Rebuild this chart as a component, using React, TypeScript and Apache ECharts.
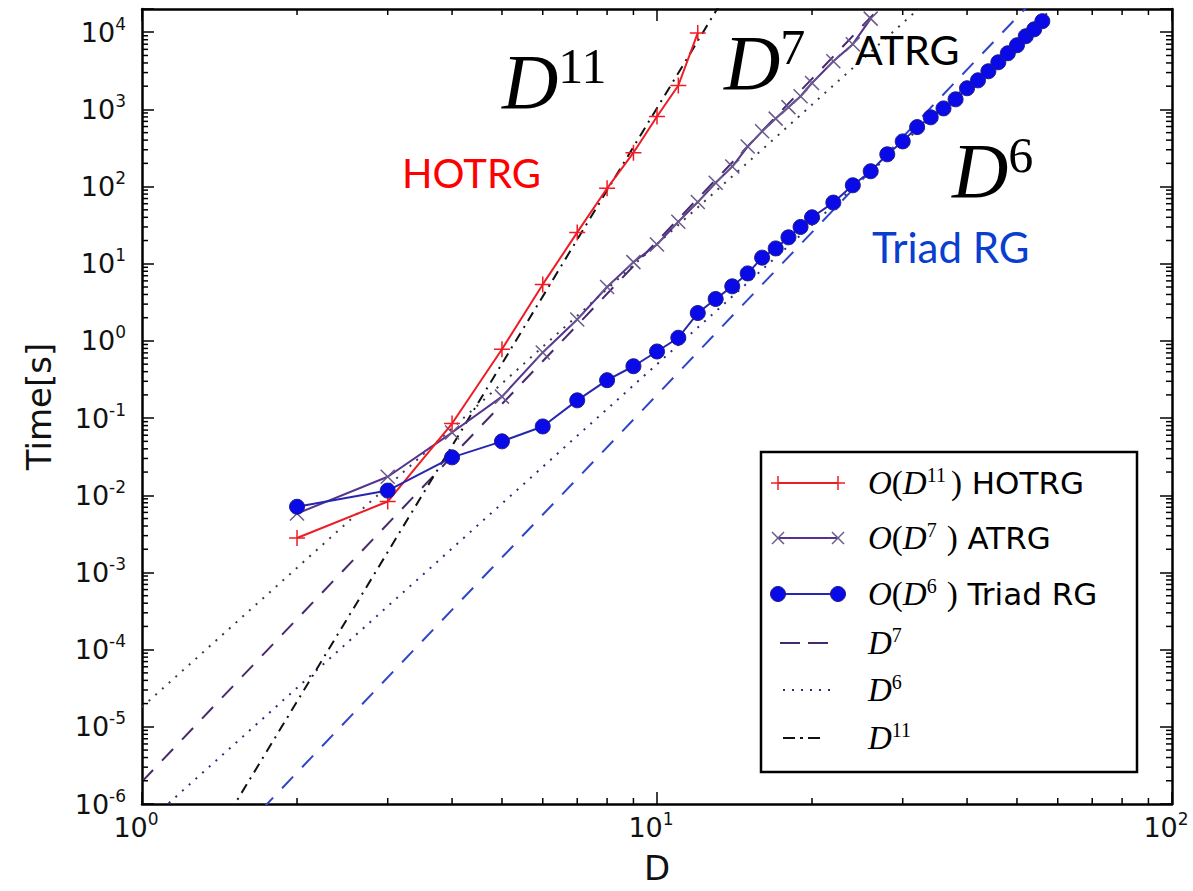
import React, { useEffect, useRef } from 'react';
import * as echarts from 'echarts';

// ---------- data ----------
const hotrgD = [2, 3, 4, 5, 6, 7, 8, 9, 10, 11, 12];
const hotrgTime = [0.0028, 0.0083, 0.085, 0.78, 5.4, 25.5, 95, 275, 810, 2040, 9800];

const atrgD = [2, 3, 4, 5, 6, 7, 8, 9, 10, 11, 12, 13, 14, 15, 16, 17, 18, 19, 20, 22, 24, 26];
const atrgTime = [0.0058, 0.0174, 0.065, 0.19, 0.71, 1.9, 5.0, 10.5, 17.8, 35, 63, 112, 182, 330, 520, 760, 1070, 1480, 2200, 4200, 7000, 15000];

const triadD = [2, 3, 4, 5, 6, 7, 8, 9, 10, 11, 12, 13, 14, 15, 16, 17, 18, 19, 20, 22, 24, 26, 28, 30, 32, 34, 36, 38, 40, 42, 44, 46, 48, 50, 52, 54, 56];
const triadTime = [0.0071, 0.0115, 0.031, 0.05, 0.078, 0.17, 0.31, 0.47, 0.73, 1.1, 2.3, 3.5, 5.1, 7.5, 12, 15.8, 22, 30, 40, 62, 104, 158, 262, 385, 590, 790, 1030, 1350, 1880, 2380, 3120, 4080, 5340, 6780, 8870, 10900, 13900];

// power-law guide lines, end points at D = 1 and D = 100
const fitD = [1, 100];
const fitD6Upper = [1.8e-5, 1.8e7];
const fitD7 = [1.95e-6, 1.95e8];
const fitD6Triad = [5e-7, 5e5];
const fitD11 = [1.04e-8, 1.04e14];
const fitD7Triad = [2e-8, 2e6];

// axes
const xMin = 1;
const xMax = 100;
const yMin = 1e-6;
const yMax = 2e4;
const xDecades = [1, 10];
const yDecades = [1e-6, 1e-5, 1e-4, 1e-3, 1e-2, 1e-1, 1, 10, 100, 1000, 10000];
const minorMultipliers = [2, 3, 4, 5, 6, 7, 8, 9];

const zip = (xs: number[], ys: number[]) => xs.map((x, i) => [x, ys[i]]);

const FONT = 'DejaVu Sans';
const SERIF = 'Liberation Serif';

const RED = '#ee1c25';
const PURPLE = '#56348e';
const BLUE_FILL = '#0a0ae8';
const BLUE_LINE = '#2626b0';

const tickRich = {
  b: { fontSize: 27, fontFamily: FONT, color: '#111', lineHeight: 34 },
  s: { fontSize: 17, fontFamily: FONT, color: '#111', lineHeight: 16, verticalAlign: 'top' },
};

function powLabel(v: number) {
  const l = Math.log10(v);
  const e = Math.round(l);
  if (Math.abs(l - e) > 1e-6) return '';
  return `{b|10}{s|${e}}`;
}
function expLabel(v: number) {
  const e = Math.round(v);
  if (Math.abs(v - e) > 1e-6) return '';
  return `{b|10}{s|${e}}`;
}

export default function App() {
  const ref = useRef<HTMLDivElement>(null);
  useEffect(() => {
    if (!ref.current) return;
    const chart = echarts.init(ref.current, null, { renderer: 'svg' });

    const xMinor = xDecades.flatMap((d) => minorMultipliers.map((m) => [d * m, 1]));
    const yMinor = yDecades
      .flatMap((d) => minorMultipliers.map((m) => [1, d * m]))
      .filter((p) => p[1] < yMax * 0.999);

    const tickStyle = { stroke: '#000', lineWidth: 1.5 };

    const fitLine = (name: string, ys: number[], color: string, dash: any, width = 2) => ({
      name,
      type: 'line',
      xAxisIndex: 0,
      yAxisIndex: 0,
      data: zip(fitD, ys),
      symbol: 'none',
      lineStyle: { color, width, type: dash },
      z: 2,
      silent: true,
    });

    const legendText = {
      i: { fontFamily: SERIF, fontStyle: 'italic', fontSize: 33, color: '#222', lineHeight: 36 },
      r: { fontFamily: SERIF, fontSize: 33, color: '#222', lineHeight: 36 },
      sup: { fontFamily: SERIF, fontSize: 20, color: '#222', lineHeight: 18, verticalAlign: 'top' },
      s: { fontFamily: FONT, fontSize: 31, color: '#111', lineHeight: 36 },
    };

    const bigRich = {
      d: { fontFamily: SERIF, fontStyle: 'italic', fontSize: 78, color: '#000', lineHeight: 80 },
      n: { fontFamily: SERIF, fontSize: 50, color: '#000', lineHeight: 44, verticalAlign: 'top' },
    };

    const lx1 = 778;
    const lx2 = 838;
    const rows = [483, 538, 594, 643, 690, 738];
    const legendZ = 100;

    const plusAt = (x: number, y: number, c: string) => [
      { type: 'line', z: legendZ, shape: { x1: x - 7, y1: y, x2: x + 7, y2: y }, style: { stroke: c, lineWidth: 1.5 } },
      { type: 'line', z: legendZ, shape: { x1: x, y1: y - 7, x2: x, y2: y + 7 }, style: { stroke: c, lineWidth: 1.5 } },
    ];
    const crossAt = (x: number, y: number, c: string) => [
      { type: 'line', z: legendZ, shape: { x1: x - 6, y1: y - 6, x2: x + 6, y2: y + 6 }, style: { stroke: c, lineWidth: 1.5 } },
      { type: 'line', z: legendZ, shape: { x1: x - 6, y1: y + 6, x2: x + 6, y2: y - 6 }, style: { stroke: c, lineWidth: 1.5 } },
    ];

    const option: any = {
      animation: false,
      backgroundColor: '#fff',
      grid: { left: 142, right: 21, top: 9, bottom: 87, containLabel: false, outerBoundsMode: 'none' },
      xAxis: [
        {
          type: 'log',
          logBase: 10,
          min: xMin,
          max: xMax,
          position: 'bottom',
          name: 'D',
          nameLocation: 'middle',
          nameGap: 47,
          nameTextStyle: { fontSize: 34, fontFamily: FONT, color: '#111' },
          axisLine: { show: true, onZero: false, lineStyle: { color: '#000', width: 2.5 } },
          axisTick: { show: true, inside: true, length: 12, lineStyle: { color: '#000', width: 1.5 } },
          axisLabel: { show: true, margin: 6, padding: [0, 12, 0, 0], formatter: powLabel, rich: tickRich, showMinLabel: true, showMaxLabel: true },
          splitLine: { show: false },
        },
        {
          type: 'log',
          logBase: 10,
          min: xMin,
          max: xMax,
          position: 'top',
          axisLine: { show: true, onZero: false, lineStyle: { color: '#000', width: 2.5 } },
          axisTick: { show: true, inside: true, length: 12, lineStyle: { color: '#000', width: 1.5 } },
          axisLabel: { show: false },
          splitLine: { show: false },
        },
      ],
      yAxis: [
        {
          type: 'log',
          logBase: 10,
          min: yMin,
          max: yMax,
          position: 'left',
          offset: 0,
          axisLine: { show: false },
          axisTick: { show: false },
          axisLabel: { show: false },
          splitLine: { show: false },
        },
        {
          type: 'value',
          min: Math.log10(yMin),
          max: Math.log10(yMax),
          interval: 1,
          position: 'left',
          offset: 0,
          name: 'Time[s]',
          nameLocation: 'middle',
          nameGap: 86,
          nameRotate: 90,
          nameTextStyle: { fontSize: 34, fontFamily: FONT, color: '#111' },
          axisLine: { show: true, onZero: false, lineStyle: { color: '#000', width: 2.5 } },
          axisTick: { show: true, inside: true, length: 12, lineStyle: { color: '#000', width: 1.5 } },
          axisLabel: { show: true, margin: 16, formatter: expLabel, rich: tickRich },
          splitLine: { show: false },
        },
        {
          type: 'value',
          min: Math.log10(yMin),
          max: Math.log10(yMax),
          interval: 1,
          position: 'right',
          offset: 0,
          axisLine: { show: true, onZero: false, lineStyle: { color: '#000', width: 2.5 } },
          axisTick: { show: true, inside: true, length: 12, lineStyle: { color: '#000', width: 1.5 } },
          axisLabel: { show: false },
          splitLine: { show: false },
        },
      ],
      series: [
        fitLine('D6 upper', fitD6Upper, '#3a3a4a', [2, 7]),
        fitLine('D7', fitD7, '#46286e', [16, 13]),
        fitLine('D6', fitD6Triad, '#2c2c78', [2, 7]),
        fitLine('D11', fitD11, '#111', [10, 6, 2, 6]),
        fitLine('D7 triad', fitD7Triad, '#2f45c8', [16, 13]),
        {
          name: 'HOTRG',
          type: 'line',
          xAxisIndex: 0,
          yAxisIndex: 0,
          data: zip(hotrgD, hotrgTime),
          symbol: 'path://M5,0L5,10M0,5L10,5',
          symbolSize: 16,
          itemStyle: { color: RED, borderColor: RED, borderWidth: 1.5 },
          lineStyle: { color: RED, width: 2 },
          z: 5,
        },
        {
          name: 'ATRG',
          type: 'line',
          xAxisIndex: 0,
          yAxisIndex: 0,
          data: zip(atrgD, atrgTime),
          symbol: 'path://M0,0L10,10M10,0L0,10',
          symbolSize: 14,
          itemStyle: { color: '#6a5a8c', borderColor: '#6a5a8c', borderWidth: 1.5 },
          lineStyle: { color: PURPLE, width: 2 },
          z: 4,
        },
        {
          name: 'Triad RG',
          type: 'line',
          xAxisIndex: 0,
          yAxisIndex: 0,
          data: zip(triadD, triadTime),
          symbol: 'circle',
          symbolSize: 15,
          itemStyle: { color: BLUE_FILL, borderColor: '#1c1c8a', borderWidth: 1 },
          lineStyle: { color: BLUE_LINE, width: 2 },
          z: 6,
        },
        {
          name: 'xMinor',
          type: 'custom',
          xAxisIndex: 0,
          yAxisIndex: 0,
          data: xMinor,
          silent: true,
          z: 20,
          clip: false,
          renderItem: (params: any, api: any) => {
            const cs = params.coordSys;
            const x = api.coord([api.value(0), api.value(1)])[0];
            const b = cs.y + cs.height;
            return {
              type: 'group',
              children: [
                { type: 'line', shape: { x1: x, y1: b, x2: x, y2: b - 6 }, style: tickStyle },
                { type: 'line', shape: { x1: x, y1: cs.y, x2: x, y2: cs.y + 6 }, style: tickStyle },
              ],
            };
          },
        },
        {
          name: 'yMinor',
          type: 'custom',
          xAxisIndex: 0,
          yAxisIndex: 0,
          data: yMinor,
          silent: true,
          z: 20,
          clip: false,
          renderItem: (params: any, api: any) => {
            const cs = params.coordSys;
            const y = api.coord([api.value(0), api.value(1)])[1];
            const r = cs.x + cs.width;
            return {
              type: 'group',
              children: [
                { type: 'line', shape: { x1: cs.x, y1: y, x2: cs.x + 6, y2: y }, style: tickStyle },
                { type: 'line', shape: { x1: r, y1: y, x2: r - 6, y2: y }, style: tickStyle },
              ],
            };
          },
        },
      ],
      graphic: [
        // annotations
        { type: 'text', z: 50, style: { x: 502, y: 81, text: '{d|D}{n|11}', rich: bigRich, textVerticalAlign: 'middle' } },
        { type: 'text', z: 50, style: { x: 724, y: 62, text: '{d|D}{n|7}', rich: bigRich, textVerticalAlign: 'middle' } },
        { type: 'text', z: 50, style: { x: 952, y: 170, text: '{d|D}{n|6}', rich: bigRich, textVerticalAlign: 'middle' } },
        { type: 'text', z: 50, style: { x: 855, y: 49, text: 'ATRG', fill: '#000', font: '41px Lato', textVerticalAlign: 'middle' } },
        { type: 'text', z: 50, style: { x: 402, y: 173, text: 'HOTRG', fill: '#ff0000', font: '40px Lato', textVerticalAlign: 'middle' } },
        { type: 'text', z: 50, style: { x: 872, y: 247, text: 'Triad RG', fill: '#0a3ecf', font: '42px Lato', textVerticalAlign: 'middle' } },
        // legend
        { type: 'rect', z: legendZ - 1, shape: { x: 761, y: 452, width: 376, height: 320 }, style: { fill: '#fff', stroke: '#000', lineWidth: 2.5 } },
        { type: 'line', z: legendZ, shape: { x1: lx1, y1: rows[0], x2: lx2, y2: rows[0] }, style: { stroke: RED, lineWidth: 2 } },
        ...plusAt(lx1, rows[0], RED),
        ...plusAt(lx2, rows[0], RED),
        { type: 'line', z: legendZ, shape: { x1: lx1, y1: rows[1], x2: lx2, y2: rows[1] }, style: { stroke: PURPLE, lineWidth: 2 } },
        ...crossAt(lx1, rows[1], '#6a5a8c'),
        ...crossAt(lx2, rows[1], '#6a5a8c'),
        { type: 'line', z: legendZ, shape: { x1: lx1, y1: rows[2], x2: lx2, y2: rows[2] }, style: { stroke: BLUE_LINE, lineWidth: 2 } },
        { type: 'circle', z: legendZ, shape: { cx: lx1, cy: rows[2], r: 7.5 }, style: { fill: BLUE_FILL, stroke: '#1c1c8a', lineWidth: 1 } },
        { type: 'circle', z: legendZ, shape: { cx: lx2, cy: rows[2], r: 7.5 }, style: { fill: BLUE_FILL, stroke: '#1c1c8a', lineWidth: 1 } },
        { type: 'line', z: legendZ, shape: { x1: 780, y1: rows[3], x2: 828, y2: rows[3] }, style: { stroke: '#46286e', lineWidth: 2, lineDash: [20, 8] } },
        { type: 'line', z: legendZ, shape: { x1: 783, y1: rows[4], x2: 834, y2: rows[4] }, style: { stroke: '#2c2c78', lineWidth: 2, lineDash: [2, 7] } },
        { type: 'line', z: legendZ, shape: { x1: 783, y1: rows[5], x2: 824, y2: rows[5] }, style: { stroke: '#111', lineWidth: 2, lineDash: [12, 5, 3, 5] } },
        { type: 'text', z: legendZ, style: { x: 868, y: rows[0], text: '{i|O}{r|(}{i|D}{sup|11\u00a0}{r|)}{s|\u00a0HOTRG}', rich: legendText, textVerticalAlign: 'middle' } },
        { type: 'text', z: legendZ, style: { x: 868, y: rows[1], text: '{i|O}{r|(}{i|D}{sup|7\u00a0\u00a0}{r|)}{s|\u00a0ATRG}', rich: legendText, textVerticalAlign: 'middle' } },
        { type: 'text', z: legendZ, style: { x: 868, y: rows[2], text: '{i|O}{r|(}{i|D}{sup|6\u00a0\u00a0}{r|)}{s|\u00a0Triad RG}', rich: legendText, textVerticalAlign: 'middle' } },
        { type: 'text', z: legendZ, style: { x: 868, y: rows[3], text: '{i|D}{sup|7}', rich: legendText, textVerticalAlign: 'middle' } },
        { type: 'text', z: legendZ, style: { x: 868, y: rows[4], text: '{i|D}{sup|6}', rich: legendText, textVerticalAlign: 'middle' } },
        { type: 'text', z: legendZ, style: { x: 868, y: rows[5], text: '{i|D}{sup|11}', rich: legendText, textVerticalAlign: 'middle' } },
      ],
    };

    chart.setOption(option);
    return () => chart.dispose();
  }, []);

  return (
    <div
      ref={ref}
      style={{ position: 'absolute', left: 0, top: 0, width: 1193, height: 891, background: '#fff' }}
    />
  );
}
